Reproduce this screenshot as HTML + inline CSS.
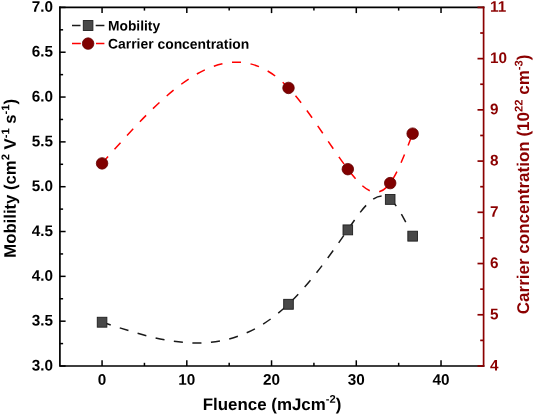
<!DOCTYPE html><html><head><meta charset="utf-8"><title>Mobility and carrier concentration vs fluence</title>
<style>html,body{margin:0;padding:0;background:#fff}svg{display:block}text{text-rendering:geometricPrecision;font-family:"Liberation Sans",Arial,sans-serif;font-weight:bold}</style></head><body>
<svg width="533" height="414" viewBox="0 0 533 414">
<rect width="533" height="414" fill="#fff"/>
<g stroke="#000" stroke-width="1.7" fill="none" stroke-linecap="square">
<path d="M59.9 7.4 V366.0 H483.6"/><path d="M59.9 7.4 H483.6"/>
</g>
<g stroke="#000" stroke-width="1.5" fill="none">
<path d="M59.9 366.00 h5.7"/>
<path d="M59.9 321.18 h5.7"/>
<path d="M59.9 276.35 h5.7"/>
<path d="M59.9 231.52 h5.7"/>
<path d="M59.9 186.70 h5.7"/>
<path d="M59.9 141.88 h5.7"/>
<path d="M59.9 97.05 h5.7"/>
<path d="M59.9 52.22 h5.7"/>
<path d="M59.9 7.40 h5.7"/>
<path d="M59.9 343.59 h3.2"/>
<path d="M59.9 298.76 h3.2"/>
<path d="M59.9 253.94 h3.2"/>
<path d="M59.9 209.11 h3.2"/>
<path d="M59.9 164.29 h3.2"/>
<path d="M59.9 119.46 h3.2"/>
<path d="M59.9 74.64 h3.2"/>
<path d="M59.9 29.81 h3.2"/>
<path d="M102.07 366.0 v-5.7"/><path d="M102.07 7.4 v5.7"/>
<path d="M186.81 366.0 v-5.7"/><path d="M186.81 7.4 v5.7"/>
<path d="M271.55 366.0 v-5.7"/><path d="M271.55 7.4 v5.7"/>
<path d="M356.29 366.0 v-5.7"/><path d="M356.29 7.4 v5.7"/>
<path d="M441.03 366.0 v-5.7"/><path d="M441.03 7.4 v5.7"/>
<path d="M144.44 366.0 v-3.2"/><path d="M144.44 7.4 v3.2"/>
<path d="M229.18 366.0 v-3.2"/><path d="M229.18 7.4 v3.2"/>
<path d="M313.92 366.0 v-3.2"/><path d="M313.92 7.4 v3.2"/>
<path d="M398.66 366.0 v-3.2"/><path d="M398.66 7.4 v3.2"/>
</g>
<g stroke="#8b0000" stroke-width="1.7" fill="none">
<path d="M483.6 6.550000000000001 V366.85"/>
<path d="M483.6 366.00 h-6.1000000000000005"/>
<path d="M483.6 314.77 h-6.1000000000000005"/>
<path d="M483.6 263.54 h-6.1000000000000005"/>
<path d="M483.6 212.31 h-6.1000000000000005"/>
<path d="M483.6 161.09 h-6.1000000000000005"/>
<path d="M483.6 109.86 h-6.1000000000000005"/>
<path d="M483.6 58.63 h-6.1000000000000005"/>
<path d="M483.6 7.40 h-6.1000000000000005"/>
<path d="M483.6 340.39 h-3.4000000000000004"/>
<path d="M483.6 289.16 h-3.4000000000000004"/>
<path d="M483.6 237.93 h-3.4000000000000004"/>
<path d="M483.6 186.70 h-3.4000000000000004"/>
<path d="M483.6 135.47 h-3.4000000000000004"/>
<path d="M483.6 84.24 h-3.4000000000000004"/>
<path d="M483.6 33.01 h-3.4000000000000004"/>
</g>
<g font-size="15.3" fill="#000">
<text transform="translate(53.00 370.40) rotate(0.03)" text-anchor="end">3.0</text>
<text transform="translate(53.00 325.57) rotate(0.03)" text-anchor="end">3.5</text>
<text transform="translate(53.00 280.75) rotate(0.03)" text-anchor="end">4.0</text>
<text transform="translate(53.00 235.92) rotate(0.03)" text-anchor="end">4.5</text>
<text transform="translate(53.00 191.10) rotate(0.03)" text-anchor="end">5.0</text>
<text transform="translate(53.00 146.28) rotate(0.03)" text-anchor="end">5.5</text>
<text transform="translate(53.00 101.45) rotate(0.03)" text-anchor="end">6.0</text>
<text transform="translate(53.00 56.62) rotate(0.03)" text-anchor="end">6.5</text>
<text transform="translate(53.00 11.80) rotate(0.03)" text-anchor="end">7.0</text>
<text transform="translate(102.07 384.80) rotate(0.03)" text-anchor="middle">0</text>
<text transform="translate(186.81 384.80) rotate(0.03)" text-anchor="middle">10</text>
<text transform="translate(271.55 384.80) rotate(0.03)" text-anchor="middle">20</text>
<text transform="translate(356.29 384.80) rotate(0.03)" text-anchor="middle">30</text>
<text transform="translate(441.03 384.80) rotate(0.03)" text-anchor="middle">40</text>
</g>
<g font-size="15.3" fill="#8b0000">
<text transform="translate(490.00 370.40) rotate(0.03)">4</text>
<text transform="translate(490.00 319.17) rotate(0.03)">5</text>
<text transform="translate(490.00 267.94) rotate(0.03)">6</text>
<text transform="translate(490.00 216.71) rotate(0.03)">7</text>
<text transform="translate(490.00 165.49) rotate(0.03)">8</text>
<text transform="translate(490.00 114.26) rotate(0.03)">9</text>
<text transform="translate(490.00 63.03) rotate(0.03)">10</text>
<text transform="translate(490.00 11.80) rotate(0.03)">11</text>
</g>
<text transform="translate(15.80 178.30) rotate(-89.97)" text-anchor="middle" font-size="16.7" fill="#000">Mobility (cm<tspan font-size="11.2" dy="-6.5">2</tspan><tspan dy="6.5"> V</tspan><tspan font-size="11.2" dy="-6.5">-1</tspan><tspan dy="6.5"> s</tspan><tspan font-size="11.2" dy="-6.5">-1</tspan><tspan dy="6.5">)</tspan></text>
<text transform="translate(529.00 184.40) rotate(-89.97)" text-anchor="middle" font-size="17" fill="#8b0000">Carrier concentration (10<tspan font-size="11.2" dy="-6.5">22</tspan><tspan dy="6.5"> cm</tspan><tspan font-size="11.2" dy="-6.5">-3</tspan><tspan dy="6.5">)</tspan></text>
<text transform="translate(272.00 410.00) rotate(0.03)" text-anchor="middle" font-size="16.9" fill="#000">Fluence (mJcm<tspan font-size="11.2" dy="-7.4">-2</tspan><tspan dy="7.4">)</tspan></text>
<path d="M102.07 322.07 C164.21 342.67 226.36 363.26 288.50 304.14 C308.27 285.33 328.04 258.45 347.82 229.73 C361.94 209.22 376.06 187.77 390.19 199.25 C396.17 204.12 402.16 214.91 408.15 226.88" stroke="#1a1a1a" stroke-width="1.5" fill="none" stroke-dasharray="9.1 9.5"/>
<path d="M102.07 163.39 C164.21 93.13 226.36 22.88 288.50 87.93 C308.27 108.63 328.04 143.03 347.82 169.18 C361.94 187.86 376.06 202.33 390.19 183.11 C397.67 172.93 405.16 153.28 412.64 133.63" stroke="#ff0000" stroke-width="1.5" fill="none" stroke-dasharray="9 9.68"/>
<rect x="97.27" y="317.27" width="9.6" height="9.9" fill="#484848" stroke="#1e1e1e" stroke-width="0.9"/>
<rect x="283.70" y="299.34" width="9.6" height="9.9" fill="#484848" stroke="#1e1e1e" stroke-width="0.9"/>
<rect x="343.02" y="224.93" width="9.6" height="9.9" fill="#484848" stroke="#1e1e1e" stroke-width="0.9"/>
<rect x="385.39" y="194.45" width="9.6" height="9.9" fill="#484848" stroke="#1e1e1e" stroke-width="0.9"/>
<rect x="407.84" y="231.21" width="9.6" height="9.9" fill="#484848" stroke="#1e1e1e" stroke-width="0.9"/>
<circle cx="102.07" cy="163.39" r="5.75" fill="#800000" stroke="#650000" stroke-width="0.8"/>
<circle cx="288.50" cy="87.93" r="5.75" fill="#800000" stroke="#650000" stroke-width="0.8"/>
<circle cx="347.82" cy="169.18" r="5.75" fill="#800000" stroke="#650000" stroke-width="0.8"/>
<circle cx="390.19" cy="183.11" r="5.75" fill="#800000" stroke="#650000" stroke-width="0.8"/>
<circle cx="412.64" cy="133.63" r="5.75" fill="#800000" stroke="#650000" stroke-width="0.8"/>
<path d="M72 25.5 H80.5 M95.7 25.5 H104.4" stroke="#1a1a1a" stroke-width="1.5"/>
<rect x="83.30" y="20.55" width="9.6" height="9.9" fill="#484848" stroke="#1e1e1e" stroke-width="0.9"/>
<path d="M72 43.6 H80.8 M96 43.6 H104.4" stroke="#ff0000" stroke-width="1.5"/>
<circle cx="88.10" cy="43.60" r="5.75" fill="#800000" stroke="#650000" stroke-width="0.8"/>
<text transform="translate(108.00 30.40) rotate(0.03)" font-size="13.8" fill="#000">Mobility</text>
<text transform="translate(108.00 48.60) rotate(0.03)" font-size="13.9" fill="#000">Carrier concentration</text>
</svg></body></html>
